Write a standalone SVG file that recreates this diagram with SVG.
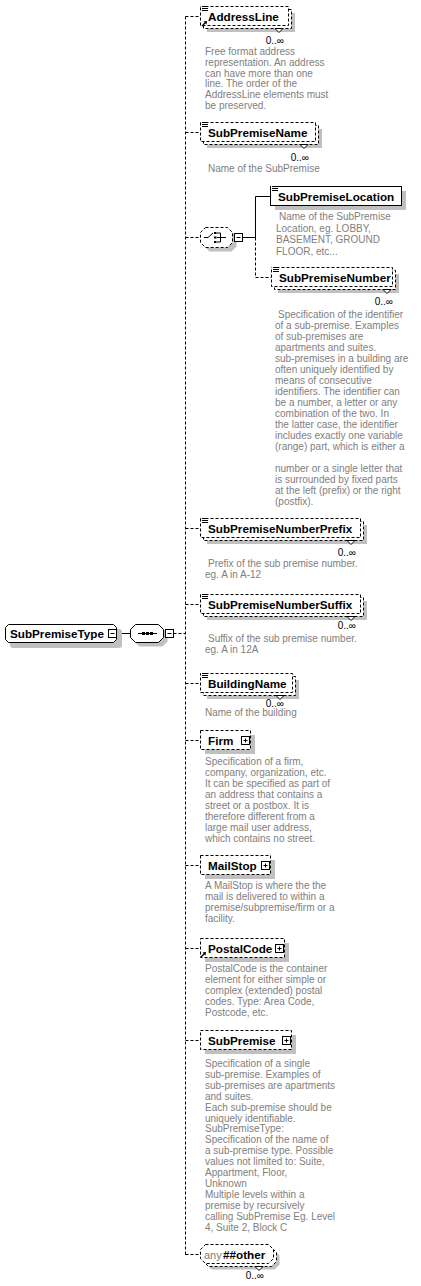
<svg xmlns="http://www.w3.org/2000/svg" width="421" height="1286" viewBox="0 0 421 1286">
<style>
.bg{fill:#fff}
.box{fill:#fff;stroke:#000;stroke-width:1;stroke-dasharray:3,2}
.sbox{fill:#fff;stroke:#000;stroke-width:1}
.sh{fill:#c0c0c0;stroke:none}
.lbl{font-family:"Liberation Sans",Arial,sans-serif;font-weight:bold;font-size:11.7px;fill:#000}
.desc{font-family:"Liberation Sans",Arial,sans-serif;font-size:10px;fill:#808080}
.occ{font-family:"Liberation Sans",Arial,sans-serif;font-size:10px;fill:#000}
.dash{fill:none;stroke:#000;stroke-width:1;stroke-dasharray:3,2}
.solid{fill:none;stroke:#000;stroke-width:1}
.ic{fill:none;stroke:#000;stroke-width:1}
.pm{fill:#fff;stroke:#000;stroke-width:1}
.v{fill:#fff;stroke:#000;stroke-width:1}
</style>
<defs>
<g id="eq"><rect x="0" y="-0.5" width="7" height="6" fill="#fff"/><path d="M1,0.5H7M1,2.5H7M1,4.5H7" stroke="#000" stroke-width="1"/></g>
<g id="ref"><path d="M0,5L4,1" stroke="#000" stroke-width="1.2"/><polygon points="5,0 1.5,0.5 4.5,3.5" fill="#000"/></g>
<g id="minus"><rect class="pm" x="0" y="0" width="8" height="8"/><path d="M2,4H6" stroke="#000"/></g>
<g id="plus"><rect class="pm" x="0" y="0" width="8" height="8"/><path d="M2,4H6M4,2V6" stroke="#000"/></g>
</defs>

<g id="connectors">
<path class="dash" d="M185.5,16.5V1254.5"/>
<path class="dash" d="M185.5,16.5H200.5M185.5,132.5H200.5M185.5,237.5H200.5M185.5,528.5H200.5M185.5,604.5H200.5M185.5,683.5H200.5M185.5,740.5H200.5M185.5,865.5H200.5M185.5,948.5H200.5M185.5,1040.5H200.5M185.5,1254.5H200.5"/>
<path class="solid" d="M116.5,633.5H130.5M163.5,633.5H165.5"/>
<path class="dash" d="M173.5,633.5H185.5"/>
<path class="solid" d="M242.5,237.5H255.5M255.5,237.5V196.5H270.5"/>
<path class="dash" d="M255.5,237.5V277.5H271.5"/>
</g>

<g id="SubPremiseType">
<rect class="sh" x="10" y="629" width="112" height="19" rx="3"/>
<path class="sbox" d="M8.5,624.5H113.5L116.5,627.5V639.5L113.5,642.5H8.5L5.5,639.5V627.5Z"/>
<text class="lbl" x="10" y="637.7">SubPremiseType</text>
<use href="#minus" x="108.5" y="629.5"/>
</g>

<g id="sequence">
<path class="sh" d="M139.5,628.5H162.5L167.5,633.5V641.5L162.5,646.5H139.5L134.5,641.5V633.5Z"/>
<path class="sbox" d="M135.5,624.5H158.5L163.5,629.5V637.5L158.5,642.5H135.5L130.5,637.5V629.5Z"/>
<path class="solid" d="M138,633.5H157"/>
<rect x="142" y="632" width="3" height="3" fill="#000"/>
<rect x="146" y="632" width="3" height="3" fill="#000"/>
<rect x="150" y="632" width="3" height="3" fill="#000"/>
<use href="#minus" x="165.5" y="629.5"/>
</g>

<g id="AddressLine">
<rect class="sh" x="207" y="13" width="88" height="19"/>
<rect class="box" x="203.5" y="9.5" width="88" height="19"/>
<rect class="box" x="200.5" y="6.5" width="88" height="19"/>
<polygon class="v" points="275,28.5 279,32.5 283,28.5"/>
<use href="#eq" x="201" y="6"/>
<use href="#ref" x="202" y="21"/>
<text class="lbl" x="208" y="20.7">AddressLine</text>
<text class="occ" x="284" y="43.5" text-anchor="end">0..∞</text>
<text class="desc" x="205" y="55">Free format address</text>
<text class="desc" x="205" y="65.8">representation. An address</text>
<text class="desc" x="205" y="76.6">can have more than one</text>
<text class="desc" x="205" y="87.4">line. The order of the</text>
<text class="desc" x="205" y="98.2">AddressLine elements must</text>
<text class="desc" x="205" y="109">be preserved.</text>
</g>

<g id="SubPremiseName">
<rect class="sh" x="207" y="129" width="115" height="19"/>
<rect class="box" x="203.5" y="125.5" width="115" height="19"/>
<rect class="box" x="200.5" y="122.5" width="115" height="19"/>
<polygon class="v" points="300,144.5 304,148.5 308,144.5"/>
<use href="#eq" x="201" y="122"/>
<text class="lbl" x="208" y="136.7">SubPremiseName</text>
<text class="occ" x="309" y="161" text-anchor="end">0..∞</text>
<text class="desc" x="208" y="172">Name of the SubPremise</text>
</g>

<g id="choice">
<path class="sh" d="M209.5,231.5H231.5L236.5,236.5V246.5L231.5,251.5H209.5L204.5,246.5V236.5Z"/>
<path class="box" d="M205.5,227.5H227.5L232.5,232.5V242.5L227.5,247.5H205.5L200.5,242.5V232.5Z"/>
<path class="ic" d="M204,237.5H208L213,233"/>
<rect x="214" y="232" width="2.5" height="2" fill="#000"/>
<rect x="214" y="236.5" width="2.5" height="2" fill="#000"/>
<rect x="214" y="241" width="2.5" height="2" fill="#000"/>
<path class="ic" d="M217,233H220.5V242H217M217,237.5H226"/>
<use href="#minus" x="234.5" y="233.5"/>
</g>

<g id="SubPremiseLocation">
<rect class="sh" x="275" y="191" width="131" height="19"/>
<rect class="sbox" x="270.5" y="186.5" width="131" height="19"/>
<use href="#eq" x="271" y="186"/>
<text class="lbl" x="278" y="200.7">SubPremiseLocation</text>
<text class="desc" x="279" y="220">Name of the SubPremise</text>
<text class="desc" x="276" y="231.7">Location, eg. LOBBY,</text>
<text class="desc" x="276" y="243.4">BASEMENT, GROUND</text>
<text class="desc" x="276" y="255.1">FLOOR, etc...</text>
</g>

<g id="SubPremiseNumber">
<rect class="sh" x="278" y="274" width="121" height="19"/>
<rect class="box" x="274.5" y="270.5" width="121" height="19"/>
<rect class="box" x="271.5" y="267.5" width="121" height="19"/>
<polygon class="v" points="383,289.5 387,293.5 391,289.5"/>
<use href="#eq" x="272" y="267"/>
<text class="lbl" x="279" y="281.7">SubPremiseNumber</text>
<text class="occ" x="393" y="305" text-anchor="end">0..∞</text>
<text class="desc" x="278" y="318">Specification of the identifier</text>
<text class="desc" x="275" y="329">of a sub-premise. Examples</text>
<text class="desc" x="275" y="340">of sub-premises are</text>
<text class="desc" x="275" y="351">apartments and suites.</text>
<text class="desc" x="275" y="362">sub-premises in a building are</text>
<text class="desc" x="275" y="373">often uniquely identified by</text>
<text class="desc" x="275" y="384">means of consecutive</text>
<text class="desc" x="275" y="395">identifiers. The identifier can</text>
<text class="desc" x="275" y="406">be a number, a letter or any</text>
<text class="desc" x="275" y="417">combination of the two. In</text>
<text class="desc" x="275" y="428">the latter case, the identifier</text>
<text class="desc" x="275" y="439">includes exactly one variable</text>
<text class="desc" x="275" y="450">(range) part, which is either a</text>
<text class="desc" x="275" y="472">number or a single letter that</text>
<text class="desc" x="275" y="483">is surrounded by fixed parts</text>
<text class="desc" x="275" y="494">at the left (prefix) or the right</text>
<text class="desc" x="275" y="505">(postfix).</text>
</g>

<g id="SubPremiseNumberPrefix">
<rect class="sh" x="207" y="525" width="160" height="19"/>
<rect class="box" x="203.5" y="521.5" width="160" height="19"/>
<rect class="box" x="200.5" y="518.5" width="160" height="19"/>
<polygon class="v" points="347,540.5 351,544.5 355,540.5"/>
<use href="#eq" x="201" y="518"/>
<text class="lbl" x="208" y="532.7">SubPremiseNumberPrefix</text>
<text class="occ" x="356" y="556" text-anchor="end">0..∞</text>
<text class="desc" x="208" y="567">Prefix of the sub premise number.</text>
<text class="desc" x="205" y="578">eg. A in A-12</text>
</g>

<g id="SubPremiseNumberSuffix">
<rect class="sh" x="207" y="601" width="160" height="19"/>
<rect class="box" x="203.5" y="597.5" width="160" height="19"/>
<rect class="box" x="200.5" y="594.5" width="160" height="19"/>
<polygon class="v" points="347,616.5 351,620.5 355,616.5"/>
<use href="#eq" x="201" y="594"/>
<text class="lbl" x="208" y="608.7">SubPremiseNumberSuffix</text>
<text class="occ" x="356" y="629" text-anchor="end">0..∞</text>
<text class="desc" x="208" y="642">Suffix of the sub premise number.</text>
<text class="desc" x="205" y="653">eg. A in 12A</text>
</g>

<g id="BuildingName">
<rect class="sh" x="207" y="680" width="92" height="19"/>
<rect class="box" x="203.5" y="676.5" width="92" height="19"/>
<rect class="box" x="200.5" y="673.5" width="92" height="19"/>
<polygon class="v" points="276,695.5 280,699.5 284,695.5"/>
<use href="#eq" x="201" y="673"/>
<text class="lbl" x="208" y="687.7">BuildingName</text>
<text class="occ" x="284" y="707" text-anchor="end">0..∞</text>
<text class="desc" x="205" y="716">Name of the building</text>
</g>

<g id="Firm">
<rect class="sh" x="205" y="735" width="50" height="19"/>
<rect class="box" x="200.5" y="730.5" width="50" height="19"/>
<text class="lbl" x="208" y="744.7">Firm</text>
<use href="#plus" x="241.5" y="736.5"/>
<text class="desc" x="205" y="765">Specification of a firm,</text>
<text class="desc" x="205" y="776">company, organization, etc.</text>
<text class="desc" x="205" y="787">It can be specified as part of</text>
<text class="desc" x="205" y="798">an address that contains a</text>
<text class="desc" x="205" y="809">street or a postbox. It is</text>
<text class="desc" x="205" y="820">therefore different from a</text>
<text class="desc" x="205" y="831">large mail user address,</text>
<text class="desc" x="205" y="842">which contains no street.</text>
</g>

<g id="MailStop">
<rect class="sh" x="205" y="860" width="70" height="19"/>
<rect class="box" x="200.5" y="855.5" width="70" height="19"/>
<text class="lbl" x="208" y="869.7">MailStop</text>
<use href="#plus" x="261.5" y="861.5"/>
<text class="desc" x="205" y="889">A MailStop is where the the</text>
<text class="desc" x="205" y="900">mail is delivered to within a</text>
<text class="desc" x="205" y="911">premise/subpremise/firm or a</text>
<text class="desc" x="205" y="922">facility.</text>
</g>

<g id="PostalCode">
<rect class="sh" x="205" y="943" width="84" height="19"/>
<rect class="box" x="200.5" y="938.5" width="84" height="19"/>
<use href="#ref" x="201" y="952"/>
<text class="lbl" x="208" y="952.7">PostalCode</text>
<use href="#plus" x="275.5" y="944.5"/>
<text class="desc" x="205" y="972">PostalCode is the container</text>
<text class="desc" x="205" y="983">element for either simple or</text>
<text class="desc" x="205" y="994">complex (extended) postal</text>
<text class="desc" x="205" y="1005">codes. Type: Area Code,</text>
<text class="desc" x="205" y="1016">Postcode, etc.</text>
</g>

<g id="SubPremise">
<rect class="sh" x="205" y="1035" width="91" height="19"/>
<rect class="box" x="200.5" y="1030.5" width="91" height="19"/>
<text class="lbl" x="208" y="1044.7">SubPremise</text>
<use href="#plus" x="282.5" y="1036.5"/>
<text class="desc" x="205" y="1067">Specification of a single</text>
<text class="desc" x="205" y="1077.9">sub-premise. Examples of</text>
<text class="desc" x="205" y="1088.8">sub-premises are apartments</text>
<text class="desc" x="205" y="1099.7">and suites.</text>
<text class="desc" x="205" y="1110.6">Each sub-premise should be</text>
<text class="desc" x="205" y="1121.5">uniquely identifiable.</text>
<text class="desc" x="205" y="1132.4">SubPremiseType:</text>
<text class="desc" x="205" y="1143.3">Specification of the name of</text>
<text class="desc" x="205" y="1154.2">a sub-premise type. Possible</text>
<text class="desc" x="205" y="1165.1">values not limited to: Suite,</text>
<text class="desc" x="205" y="1176">Appartment, Floor,</text>
<text class="desc" x="205" y="1186.9">Unknown</text>
<text class="desc" x="205" y="1197.8">Multiple levels within a</text>
<text class="desc" x="205" y="1208.7">premise by recursively</text>
<text class="desc" x="205" y="1219.6">calling SubPremise Eg. Level</text>
<text class="desc" x="205" y="1230.5">4, Suite 2, Block C</text>
</g>

<g id="any">
<path class="sh" d="M211.5,1250.5H274.5L279.5,1255.5V1264.5L274.5,1269.5H211.5L206.5,1264.5V1255.5Z"/>
<path class="box" d="M208.5,1247.5H271.5L276.5,1252.5V1261.5L271.5,1266.5H208.5L203.5,1261.5V1252.5Z"/>
<path class="box" d="M205.5,1244.5H268.5L273.5,1249.5V1258.5L268.5,1263.5H205.5L200.5,1258.5V1249.5Z"/>
<polygon class="v" points="255,1266.5 259,1270.5 263,1266.5"/>
<text x="204" y="1258.5" style="font-family:'Liberation Sans',Arial,sans-serif;font-size:11px;fill:#808080">any</text>
<text class="lbl" x="223" y="1258.7">##other</text>
<text class="occ" x="264" y="1279" text-anchor="end">0..∞</text>
</g>
</svg>
